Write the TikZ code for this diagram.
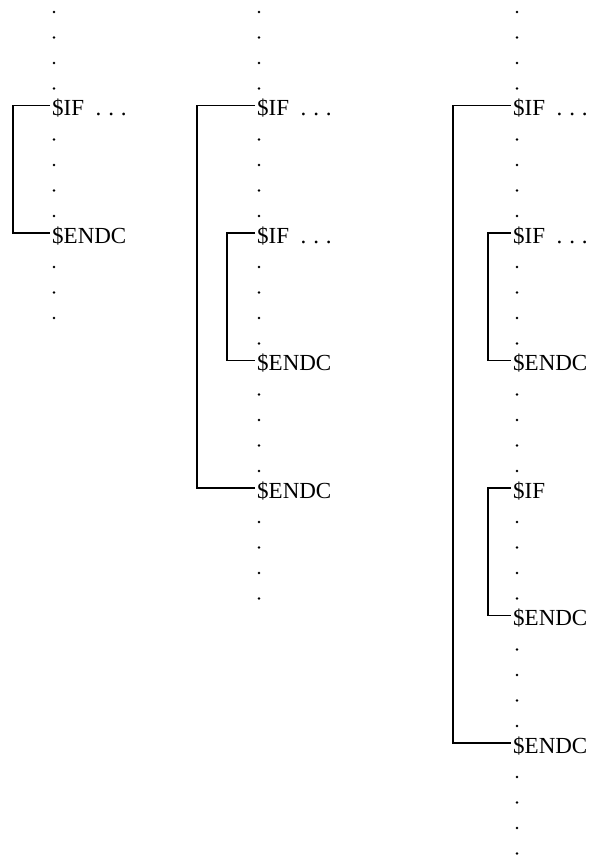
\documentclass[tikz,border=0pt]{standalone}
\usepackage{fontspec}
\setmainfont{Liberation Serif}

\tikzset{
  kw/.style={anchor=base west, inner xsep=2pt, inner ysep=0pt,
             text height=20pt, text depth=0pt,
             font=\fontsize{23}{27}\selectfont},
  bracket/.style={line width=1.7pt, line join=miter}
}
\newcommand{\ifline}{\$IF\hspace{.5em}.\hspace{.3em}.\hspace{.3em}.}

\begin{document}
\begin{tikzpicture}[x=1pt, y=-1pt]
  \useasboundingbox (0,0) rectangle (592,859);
  \clip (0,0) rectangle (592,859);

  % column 1: one block
  \foreach \r in {0,1,2,3,5,6,7,8,10,11,12}
    \fill (54,{12+25.5*\r}) circle (1.3pt);
  \node[kw] (ifA) at (50,115.5) {\ifline};
  \node[kw] (endA) at (50,243) {\$ENDC};
  \draw[bracket] (ifA.west) -- ++(-37,0) |- (endA.west);

  % column 2: one block inside another
  \foreach \r in {0,1,2,3,5,6,7,8,10,11,12,13,15,16,17,18,20,21,22,23}
    \fill (259,{12+25.5*\r}) circle (1.3pt);
  \node[kw] (ifB) at (255,115.5) {\ifline};
  \node[kw] (ifBin) at (255,243) {\ifline};
  \node[kw] (endBin) at (255,370.5) {\$ENDC};
  \node[kw] (endB) at (255,498) {\$ENDC};
  \draw[bracket] (ifB.west) -- ++(-58,0) |- (endB.west);
  \draw[bracket] (ifBin.west) -- ++(-28,0) |- (endBin.west);

  % column 3: two blocks inside another
  \foreach \r in {0,1,2,3,5,6,7,8,10,11,12,13,15,16,17,18,20,21,22,23,25,26,27,28,30,31,32,33}
    \fill (517,{12+25.5*\r}) circle (1.3pt);
  \node[kw] (ifC) at (511,115.5) {\ifline};
  \node[kw] (ifCa) at (511,243) {\ifline};
  \node[kw] (endCa) at (511,370.5) {\$ENDC};
  \node[kw] (ifCb) at (511,498) {\$IF};
  \node[kw] (endCb) at (511,625.5) {\$ENDC};
  \node[kw] (endC) at (511,753) {\$ENDC};
  \draw[bracket] (ifC.west) -- ++(-58,0) |- (endC.west);
  \draw[bracket] (ifCa.west) -- ++(-23,0) |- (endCa.west);
  \draw[bracket] (ifCb.west) -- ++(-23,0) |- (endCb.west);
\end{tikzpicture}
\end{document}
